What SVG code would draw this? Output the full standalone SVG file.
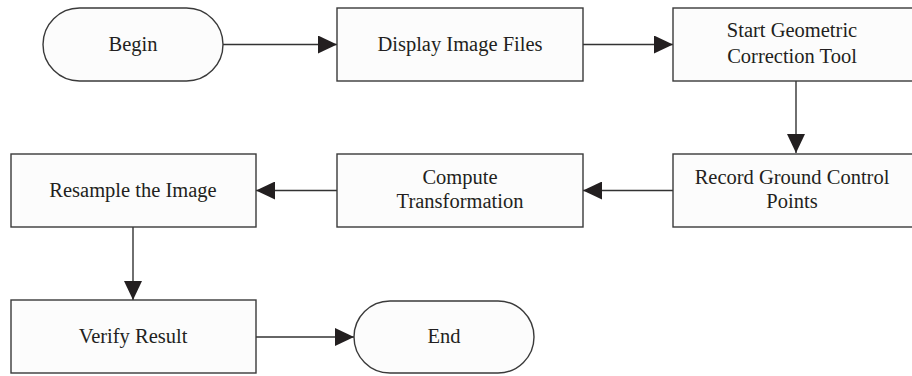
<svg xmlns="http://www.w3.org/2000/svg" width="912" height="376" viewBox="0 0 912 376">
<defs>
<style>
.box{fill:#fcfcfc;stroke:#3a3a3a;stroke-width:1.4}
.t{font-family:"Liberation Serif","DejaVu Serif",serif;font-size:20.5px;fill:#231f20;text-anchor:middle}
.c{fill:none;stroke:#333;stroke-width:1.4}
</style>
<marker id="ah" viewBox="0 0 19 18" refX="19" refY="9" markerWidth="19" markerHeight="18" markerUnits="userSpaceOnUse" orient="auto">
<path d="M0,0 L19,9 L0,18 Z" fill="#231f20"/>
</marker>
</defs>
<rect width="912" height="376" fill="#ffffff"/>
<g id="connectors">
<line class="c" x1="223" y1="44.5" x2="337" y2="44.5" marker-end="url(#ah)"/>
<line class="c" x1="583" y1="44.5" x2="673" y2="44.5" marker-end="url(#ah)"/>
<line class="c" x1="796" y1="81" x2="796" y2="153" marker-end="url(#ah)"/>
<line class="c" x1="673" y1="190.5" x2="583" y2="190.5" marker-end="url(#ah)"/>
<line class="c" x1="337" y1="190.5" x2="256" y2="190.5" marker-end="url(#ah)"/>
<line class="c" x1="133" y1="227" x2="133" y2="300" marker-end="url(#ah)"/>
<line class="c" x1="256" y1="337" x2="354" y2="337" marker-end="url(#ah)"/>
</g>
<g id="begin">
<rect class="box" x="43" y="8" width="180" height="73" rx="36.5" ry="36.5"/>
<text class="t" x="133" y="51">Begin</text>
</g>
<g id="display">
<rect class="box" x="337" y="8" width="246" height="73"/>
<text class="t" x="460" y="51">Display Image Files</text>
</g>
<g id="start">
<rect class="box" x="673" y="8" width="245" height="73"/>
<text class="t" x="792" y="37">Start Geometric</text>
<text class="t" x="792" y="63">Correction Tool</text>
</g>
<g id="record">
<rect class="box" x="673" y="154" width="245" height="73"/>
<text class="t" x="792" y="184">Record Ground Control</text>
<text class="t" x="792" y="208">Points</text>
</g>
<g id="compute">
<rect class="box" x="337" y="154" width="246" height="73"/>
<text class="t" x="460" y="184">Compute</text>
<text class="t" x="460" y="208">Transformation</text>
</g>
<g id="resample">
<rect class="box" x="11" y="154" width="245" height="73"/>
<text class="t" x="133" y="197">Resample the Image</text>
</g>
<g id="verify">
<rect class="box" x="11" y="300" width="245" height="73"/>
<text class="t" x="133" y="343">Verify Result</text>
</g>
<g id="end">
<rect class="box" x="354" y="301" width="180" height="72" rx="36" ry="36"/>
<text class="t" x="444" y="343">End</text>
</g>
</svg>
